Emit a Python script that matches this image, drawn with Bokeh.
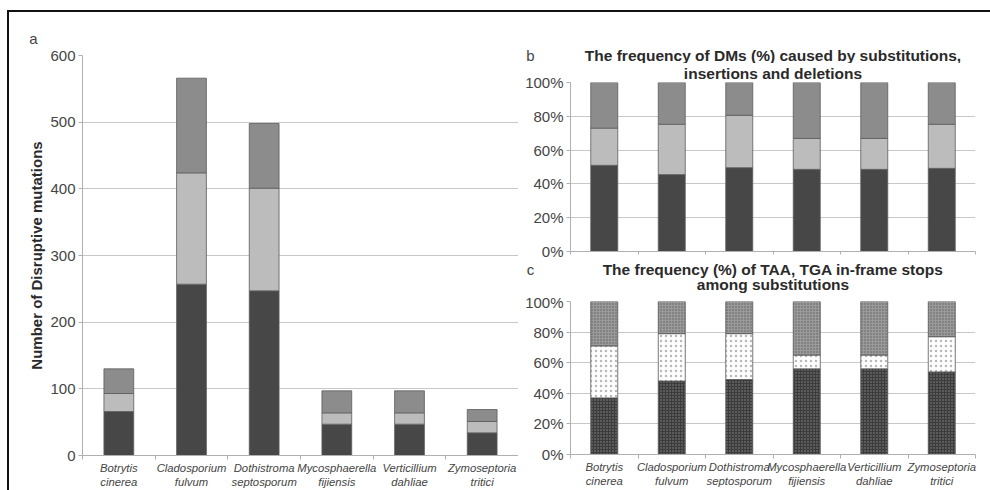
from bokeh.plotting import figure
from bokeh.layouts import row, column
from bokeh.models import (ColumnDataSource, FixedTicker, Range1d, Title,
                          PrintfTickFormatter, Div)
from bokeh.core.properties import value
from bokeh.embed import file_html
from bokeh.resources import INLINE

# ---------------------------------------------------------------- data
species = ["Botrytis\ncinerea", "Cladosporium\nfulvum", "Dothistroma\nseptosporum",
           "Mycosphaerella\nfijiensis", "Verticillium\ndahliae", "Zymoseptoria\ntritici"]

# (a) number of disruptive mutations
subst_n = [66, 257, 247, 47, 47, 34]
ins_n = [27, 167, 154, 17, 17, 17]
del_n = [37, 142, 97, 33, 33, 18]

# (b) share of DMs (%) by substitutions / insertions / deletions
subst_pct = [51.0, 45.5, 49.6, 48.6, 48.6, 49.2]
ins_pct = [22.0, 29.8, 31.0, 18.3, 18.3, 26.1]
del_pct = [27.0, 24.7, 19.4, 33.1, 33.1, 24.7]

# (c) share (%) of in-frame stop codons among substitutions
taa_pct = [37, 48, 49, 56, 56, 54]
tga_pct = [34, 31, 30, 9, 9, 23]
tag_pct = [29, 21, 21, 35, 35, 23]

count_ticks = [0, 100, 200, 300, 400, 500, 600]
pct_ticks = [0, 20, 40, 60, 80, 100]

title_b = ["The frequency of DMs (%) caused by substitutions,", "insertions and deletions"]
title_c = ["The frequency (%) of TAA, TGA in-frame stops", "among substitutions"]

# ---------------------------------------------------------------- style
FONT = "Liberation Sans"
DARK, LIGHT, MID = "#474747", "#bcbcbc", "#8c8c8c"
GRID = "#c8c8c8"
AXIS = "#b0b0b0"
TEXT = "#444444"
HEAD = "#2a2a2a"
HEAD_SIZE = "15.5px"

xpos = [i + 0.5 for i in range(len(species))]
labels = {x: s for x, s in zip(xpos, species)}

LEFT_W = 518                  # width of panel (a)
RIGHT_W = 472                 # width of the right-hand column
RB_LEFT, RB_RIGHT = 52, 15    # borders around the (b)/(c) frames


def base_fig(width, height, ymax, yticks, borders, show_labels):
    left, right, top, bottom = borders
    p = figure(width=width, height=height, x_range=Range1d(0, len(species)),
               y_range=Range1d(0, ymax), output_backend="svg", toolbar_location=None,
               min_border_left=left, min_border_right=right,
               min_border_top=top, min_border_bottom=bottom)
    p.outline_line_color = None
    p.background_fill_color = "white"
    p.xgrid.grid_line_color = None
    p.ygrid.grid_line_color = GRID
    p.ygrid.ticker = FixedTicker(ticks=yticks)

    xa = p.xaxis[0]
    xa.ticker = FixedTicker(ticks=xpos, minor_ticks=list(range(len(species) + 1)))
    xa.axis_line_color = AXIS
    xa.major_tick_line_color = None
    xa.major_tick_out = 0
    xa.major_tick_in = 0
    xa.minor_tick_line_color = AXIS
    xa.minor_tick_in = 0
    xa.minor_tick_out = 4
    if show_labels:
        xa.major_label_overrides = labels
        xa.major_label_text_font = FONT
        xa.major_label_text_font_size = "11.3px"
        xa.major_label_text_font_style = "italic"
        xa.major_label_text_color = TEXT
        xa.major_label_standoff = 2
    else:
        xa.major_label_text_font_size = "0px"
        xa.major_label_text_color = None
        xa.major_label_standoff = 0
        xa.minor_tick_out = 3

    ya = p.yaxis[0]
    ya.ticker = FixedTicker(ticks=yticks)
    ya.axis_line_color = AXIS
    ya.major_tick_line_color = AXIS
    ya.major_tick_in = 0
    ya.major_tick_out = 4
    ya.minor_tick_line_color = None
    ya.major_label_text_font = FONT
    ya.major_label_text_font_size = "15px"
    ya.major_label_text_color = TEXT
    ya.major_label_text_line_height = 1.0
    ya.major_label_standoff = 3
    return p


def header(width, height, y_top):
    """Text strip; coordinates are page pixels relative to its left edge,
    y grows downward from the page top."""
    h = figure(width=width, height=height, x_range=Range1d(0, width),
               y_range=Range1d(y_top + height, y_top), output_backend="svg",
               toolbar_location=None, x_axis_location=None, y_axis_location=None,
               min_border=0, frame_align=False)
    h.outline_line_color = None
    h.grid.visible = False
    return h


def letter(h, text, x, y):
    h.text(x=[x], y=[y], text=[text], text_font=value(FONT), text_font_size="15px",
           text_color=TEXT, text_align="center", text_baseline="middle")


def heading(h, lines, ys):
    center = RB_LEFT + (RIGHT_W - RB_LEFT - RB_RIGHT) / 2
    h.text(x=[center] * len(lines), y=ys, text=lines, text_font=value(FONT),
           text_font_size=HEAD_SIZE, text_font_style="bold", text_color=HEAD,
           text_align="center", text_baseline="middle")


# ---------------------------------------------------------------- (a)
ha = header(LEFT_W, 46, 0)
letter(ha, "a", 33, 38)

pa = base_fig(LEFT_W, 444, 600, count_ticks, (82, 0, 9, 35), True)
src_a = ColumnDataSource(dict(x=xpos, subst=subst_n, ins=ins_n, dele=del_n))
pa.vbar_stack(["subst", "ins", "dele"], x="x", width=0.41, source=src_a,
              fill_color=[DARK, LIGHT, MID], line_color="#5c5c5c", line_width=0.8)
pa.yaxis.axis_label = "Number of Disruptive mutations"
pa.yaxis.axis_label_text_font = FONT
pa.yaxis.axis_label_text_font_size = "15px"
pa.yaxis.axis_label_text_font_style = "bold"
pa.yaxis.axis_label_text_color = HEAD
pa.yaxis.axis_label_standoff = 2

# ---------------------------------------------------------------- (b)
hb = header(RIGHT_W, 63, 0)
letter(hb, "b", RB_LEFT - 40, 55)
heading(hb, title_b[:1], [55])

pb = base_fig(RIGHT_W, 197, 100, pct_ticks, (RB_LEFT, RB_RIGHT, 18, 9), False)
pb.yaxis.formatter = PrintfTickFormatter(format="%d%%")
pb.add_layout(Title(text=title_b[1], align="center", vertical_align="middle",
                    standoff=0, text_font=FONT, text_font_size=HEAD_SIZE,
                    text_font_style="bold", text_color=HEAD, text_line_height=1.0),
              "above")
src_b = ColumnDataSource(dict(x=xpos, subst=subst_pct, ins=ins_pct, dele=del_pct))
pb.vbar_stack(["subst", "ins", "dele"], x="x", width=0.4, source=src_b,
              fill_color=[DARK, LIGHT, MID], line_color="#5c5c5c", line_width=0.8)

# ---------------------------------------------------------------- (c)
hc = header(RIGHT_W, 33, 260)
letter(hc, "c", RB_LEFT - 40, 269)
heading(hc, title_c, [269, 284])

pc = base_fig(RIGHT_W, 196, 100, pct_ticks, (RB_LEFT, RB_RIGHT, 8, 34), True)
pc.yaxis.formatter = PrintfTickFormatter(format="%d%%")
src_c = ColumnDataSource(dict(x=xpos, taa=taa_pct, tga=tga_pct, tag=tag_pct))
pc.vbar_stack(["taa", "tga", "tag"], x="x", width=0.4, source=src_c,
              fill_color=["#3c3c3c", "white", "#9a9a9a"],
              hatch_pattern=["dot", "dot", "dot"],
              hatch_color=["#8a8a8a", "#b8b8b8", "#5e5e5e"],
              hatch_scale=[3, 5, 3], hatch_weight=[1, 0.8, 1],
              line_color="#555555", line_width=0.8)

# page frame lines (top and left edge)
frame = Div(width=1, height=1, text=(
    '<div style="position:fixed;left:7px;top:10px;width:990px;height:2px;background:#111"></div>'
    '<div style="position:fixed;left:7px;top:10px;width:2px;height:490px;background:#111"></div>'))

layout = row(column(ha, pa), column(hb, pb, hc, pc, frame))
open("out.html", "w").write(file_html(layout, INLINE))
